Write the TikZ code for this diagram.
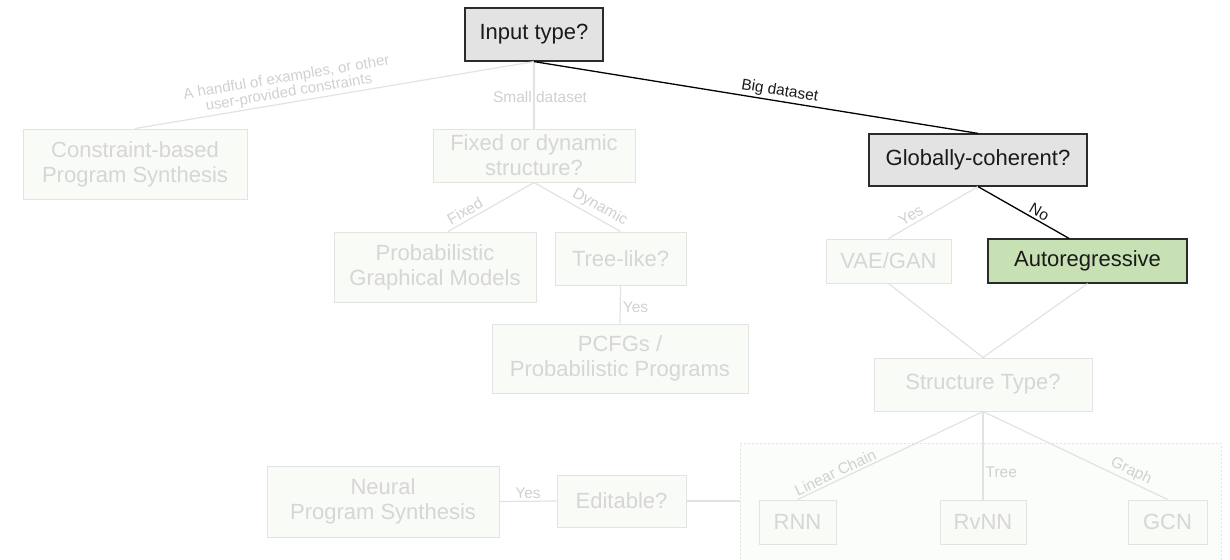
\documentclass[tikz,border=0pt]{standalone}
\usepackage{fontspec}
\setmainfont{Liberation Sans}
\definecolor{fline}{HTML}{E2E2E2}
\definecolor{fborder}{HTML}{E3E3E3}
\definecolor{ffill}{HTML}{F9FBF7}
\definecolor{ftext}{HTML}{D6D6D6}
\definecolor{flab}{HTML}{D0D0D0}
\definecolor{dborder}{HTML}{2B2B2B}
\definecolor{dfill}{HTML}{E3E3E3}
\definecolor{gfill}{HTML}{C7E1B5}
\definecolor{dtext}{HTML}{1A1A1A}
\begin{document}
\begin{tikzpicture}[x=1pt,y=-1pt,
  box/.style={draw=fborder, fill=ffill, text=ftext, line width=1pt, align=center, inner sep=0pt, font=\fontsize{22}{25}\selectfont},
  hot/.style={draw=dborder, fill=dfill, text=dtext, line width=1.2pt},
  lab/.style={font=\fontsize{15.5}{17}\selectfont, text=flab, inner sep=2pt},
  fl/.style={draw=fline, line width=1.2pt},
  dl/.style={draw=black, line width=1.3pt}]
\clip (0,0) rectangle (1230,559);
\useasboundingbox (0,0) rectangle (1230,559);

% group box
\node[draw=fborder, fill=ffill!60!white, dash pattern=on 2pt off 2pt, line width=1pt, minimum width=481pt, minimum height=132pt, inner sep=0pt] (group) at (980.5,509) {};

% nodes
\node[box, hot, minimum width=138pt, minimum height=53pt] (input) at (534,34.5) {Input type?};
\node[box, hot, minimum width=218pt, minimum height=52pt] (glob) at (978,160) {Globally-coherent?};
\node[box, hot, fill=gfill, minimum width=199pt, minimum height=44pt] (auto) at (1087.5,261) {Autoregressive};
\node[box, minimum width=125pt, minimum height=44pt] (vae) at (888.5,261) {VAE/GAN};
\node[box, minimum width=218pt, minimum height=53pt] (struct) at (983,384.5) {Structure Type?};
\node[box, minimum width=224pt, minimum height=70pt] (constr) at (135,164) {Constraint-based\\Program Synthesis};
\node[box, minimum width=202pt, minimum height=53pt] (fixed) at (534,155.5) {Fixed or dynamic\\structure?};
\node[box, minimum width=202pt, minimum height=70pt] (pgm) at (435,267) {Probabilistic\\Graphical Models};
\node[box, minimum width=131pt, minimum height=53pt] (tree) at (620.5,258.5) {Tree-like?};
\node[box, minimum width=256pt, minimum height=69pt] (pcfg) at (620,358.5) {PCFGs /\\Probabilistic Programs};
\node[box, minimum width=232pt, minimum height=71pt] (neural) at (383,501.5) {Neural\\Program Synthesis};
\node[box, minimum width=129pt, minimum height=52pt] (edit) at (621.5,501) {Editable?};
\node[box, minimum width=77pt, minimum height=44pt] (rnn) at (797.5,522) {RNN};
\node[box, minimum width=86pt, minimum height=44pt] (rvnn) at (983,522) {RvNN};
\node[box, minimum width=79pt, minimum height=44pt] (gcn) at (1167.5,522) {GCN};

% faded connectors
\draw[fl] (constr.north) -- node[lab, sloped, above, align=center, pos=0.39, inner sep=2pt, font=\fontsize{15}{15}\selectfont] {A handful of examples, or other\\user-provided constraints} (input.south);
\draw[fl] (input.south) -- (fixed.north);
\node[lab] (smalllab) at (540,97) {Small dataset};
\draw[fl] ([xshift=13pt]pgm.north) -- node[lab, sloped, above, pos=0.25, inner sep=3pt] {Fixed} (fixed.south);
\draw[fl] (fixed.south) -- node[lab, sloped, above, pos=0.7, inner sep=3pt] {Dynamic} (tree.north);
\draw[fl] (tree.south) -- node[lab, right, pos=0.56] {Yes} (pcfg.north);
\draw[fl] (vae.north) -- node[lab, sloped, above, pos=0.3, inner sep=3pt] {Yes} (glob.south);
\draw[fl] (vae.south) -- (struct.north);
\draw[fl] (auto.south) -- (struct.north);
\draw[fl] (rnn.north) -- node[lab, sloped, above, pos=0.223] {Linear Chain} (struct.south);
\draw[fl] (struct.south) -- node[lab, right, pos=0.69] {Tree} (rvnn.north);
\draw[fl] (struct.south) -- node[lab, sloped, above, pos=0.78] {Graph} (gcn.north);
\draw[fl] (neural.east) -- node[lab, above, pos=0.5] {Yes} (edit.west);
\draw[fl] (edit.east) -- (edit.east -| group.west);

% highlighted connectors
\draw[dl] (input.south) -- node[lab, sloped, above, pos=0.55, text=dtext] {Big dataset} (glob.north);
\draw[dl] (glob.south) -- node[lab, sloped, above, pos=0.63, text=dtext] {No} ([xshift=-18.5pt]auto.north);
\end{tikzpicture}
\end{document}
